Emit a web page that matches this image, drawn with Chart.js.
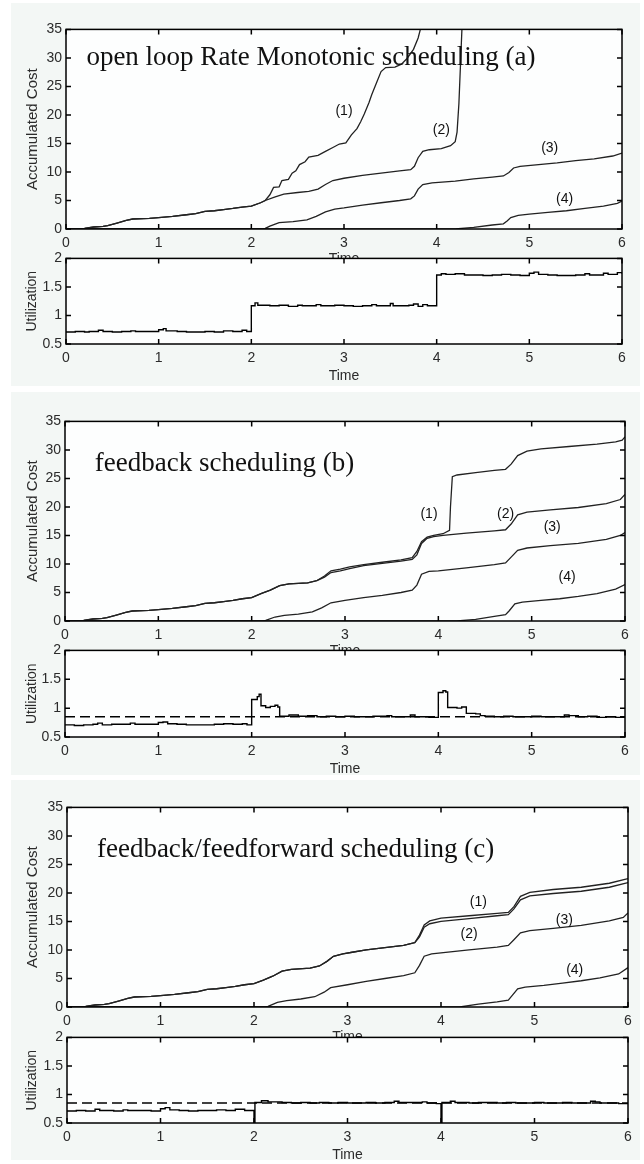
<!DOCTYPE html>
<html>
<head>
<meta charset="utf-8">
<script src="https://cdn.jsdelivr.net/npm/chart.js@4.4.0/dist/chart.umd.min.js"></script>
<style>
  html, body { margin: 0; padding: 0; background: #fff; }
  #page { position: relative; width: 644px; height: 1164px; overflow: hidden; background: #fff; }
  .panel { position: absolute; left: 11px; width: 629px; background: #f3f7f5; }
  canvas { position: absolute; left: 0; }
</style>
</head>
<body>
<div id="page">
  <div class="panel" style="top:3px;height:383px"></div>
  <div class="panel" style="top:392px;height:383px"></div>
  <div class="panel" style="top:780px;height:380px"></div>
</div>
<script>
// ---- axes / text ----
const timeTicks = [0, 1, 2, 3, 4, 5, 6];
const costTicks = [0, 5, 10, 15, 20, 25, 30, 35];
const utilTicks = [0.5, 1, 1.5, 2];
const curveNames = ['(1)', '(2)', '(3)', '(4)'];
const panelTitles = [
  'open loop Rate Monotonic scheduling (a)',
  'feedback scheduling (b)',
  'feedback/feedforward scheduling (c)'
];
const utilSetpoint = 0.85;

// ---- (a) open loop: accumulated cost [time, cost] ----
const costA12 = [[0,0],[0.15,0],[0.2,0.1],[0.3,0.35],[0.4,0.45],[0.45,0.6],[0.55,1.05],[0.65,1.5],[0.72,1.75],[0.9,1.85],[1.0,2.0],[1.15,2.2],[1.3,2.5],[1.4,2.7],[1.5,3.1],[1.6,3.2],[1.7,3.4],[1.8,3.6],[1.9,3.85],[2.0,4.0],[2.1,4.6],[2.15,5.0]];
const costA1 = costA12.concat([[2.2,6.0],[2.24,7.3],[2.3,7.4],[2.33,8.5],[2.4,8.7],[2.44,9.8],[2.48,10.2],[2.52,11.3],[2.58,11.8],[2.62,12.6],[2.72,12.9],[2.8,13.6],[2.88,14.3],[2.95,14.9],[3.02,15.1],[3.08,16.5],[3.14,17.6],[3.18,18.8],[3.22,20.2],[3.27,22.2],[3.3,23.6],[3.35,25.6],[3.4,27.6],[3.45,28.3],[3.55,28.4],[3.62,28.9],[3.68,29.9],[3.75,31.5],[3.8,33.5],[3.84,36],[3.9,42]]);
const costA2 = costA12.concat([[2.25,5.6],[2.35,6.1],[2.5,6.4],[2.62,6.6],[2.72,7.0],[2.8,7.8],[2.88,8.5],[3.0,8.9],[3.2,9.4],[3.4,9.8],[3.6,10.2],[3.72,10.4],[3.76,11.0],[3.8,12.5],[3.85,13.6],[3.92,13.9],[4.05,14.1],[4.15,14.6],[4.2,15.3],[4.22,17],[4.24,22],[4.26,30],[4.28,38],[4.3,44]]);
const costA3 = [[0,0],[2.12,0],[2.15,0.1],[2.2,0.5],[2.3,1.1],[2.45,1.3],[2.6,1.6],[2.7,2.2],[2.8,3.0],[2.9,3.5],[3.0,3.7],[3.2,4.2],[3.4,4.6],[3.6,5.0],[3.72,5.3],[3.76,5.8],[3.8,7.0],[3.85,7.8],[3.95,8.1],[4.2,8.4],[4.4,8.8],[4.6,9.1],[4.72,9.3],[4.78,9.9],[4.83,10.7],[4.9,11.0],[5.1,11.3],[5.3,11.6],[5.5,12.0],[5.7,12.3],[5.9,12.8],[6.0,13.3]];
const costA4 = [[0,0],[4.2,0],[4.4,0.3],[4.6,0.7],[4.72,0.9],[4.76,1.4],[4.8,2.0],[4.88,2.4],[5.0,2.6],[5.2,2.9],[5.4,3.2],[5.6,3.6],[5.8,4.0],[5.95,4.5],[6.0,4.9]];

// ---- (b) feedback ----
const costB12 = [[0,0],[0.15,0],[0.2,0.1],[0.3,0.35],[0.4,0.45],[0.45,0.6],[0.55,1.05],[0.65,1.5],[0.72,1.75],[0.9,1.85],[1.0,2.0],[1.15,2.2],[1.3,2.5],[1.4,2.7],[1.5,3.1],[1.6,3.2],[1.7,3.4],[1.8,3.6],[1.9,3.9],[2.0,4.1],[2.1,4.8],[2.2,5.4],[2.3,6.2],[2.4,6.5],[2.6,6.7],[2.7,7.1]];
const costB1 = costB12.concat([[2.78,7.9],[2.85,8.8],[2.95,9.1],[3.05,9.5],[3.2,9.9],[3.4,10.3],[3.6,10.7],[3.72,11.1],[3.77,12.2],[3.82,13.9],[3.88,14.7],[3.95,15.0],[4.05,15.3],[4.12,15.9],[4.13,20],[4.15,25.3],[4.2,25.6],[4.4,26.0],[4.6,26.4],[4.72,26.6],[4.78,27.5],[4.85,29.0],[4.95,29.8],[5.1,30.2],[5.4,30.6],[5.7,31.0],[5.9,31.4],[5.97,31.7],[6.0,32.3]]);
const costB2 = costB12.concat([[2.78,7.7],[2.85,8.5],[2.95,8.8],[3.05,9.2],[3.2,9.7],[3.4,10.1],[3.6,10.5],[3.72,10.8],[3.77,11.6],[3.82,13.6],[3.88,14.5],[3.95,14.8],[4.05,15.0],[4.3,15.4],[4.6,15.8],[4.72,16.0],[4.78,17.0],[4.85,18.6],[4.95,19.1],[5.2,19.5],[5.5,19.9],[5.8,20.6],[5.95,21.3],[6.0,22.2]]);
const costB3 = [[0,0],[2.12,0],[2.15,0.1],[2.25,0.7],[2.35,1.0],[2.5,1.2],[2.65,1.6],[2.75,2.3],[2.85,3.2],[3.0,3.6],[3.2,4.1],[3.4,4.5],[3.6,5.0],[3.72,5.4],[3.77,6.3],[3.82,8.2],[3.9,8.7],[4.0,8.8],[4.3,9.3],[4.6,9.9],[4.72,10.2],[4.78,11.2],[4.85,12.4],[4.95,12.8],[5.2,13.2],[5.5,13.6],[5.8,14.3],[5.95,15.0],[6.0,15.5]];
const costB4 = [[0,0],[4.2,0],[4.4,0.3],[4.6,0.8],[4.72,1.1],[4.76,1.8],[4.82,3.0],[4.9,3.3],[5.1,3.6],[5.3,3.9],[5.5,4.3],[5.7,4.8],[5.9,5.6],[6.0,6.4]];

// ---- (c) feedback/feedforward ----
const costC12 = [[0,0],[0.15,0],[0.2,0.1],[0.3,0.35],[0.4,0.45],[0.45,0.6],[0.55,1.05],[0.65,1.5],[0.72,1.75],[0.9,1.85],[1.0,2.0],[1.15,2.2],[1.3,2.5],[1.4,2.7],[1.5,3.1],[1.6,3.2],[1.7,3.4],[1.8,3.6],[1.9,3.9],[2.0,4.1],[2.1,4.7],[2.2,5.4],[2.3,6.3],[2.4,6.6],[2.6,6.8],[2.7,7.2],[2.78,8.0],[2.85,8.9],[2.95,9.3],[3.05,9.6],[3.2,10.0],[3.4,10.4],[3.6,10.8],[3.72,11.3]];
const costC1 = costC12.concat([[3.77,12.6],[3.82,14.4],[3.88,15.1],[4.0,15.6],[4.3,16.0],[4.6,16.4],[4.72,16.6],[4.78,17.6],[4.85,19.4],[4.95,20.1],[5.2,20.6],[5.5,21.0],[5.8,21.7],[6.0,22.5]]);
const costC2 = costC12.concat([[3.77,12.3],[3.82,14.0],[3.88,14.6],[4.0,15.0],[4.3,15.5],[4.6,16.0],[4.72,16.2],[4.78,17.2],[4.85,18.8],[4.95,19.5],[5.2,19.9],[5.5,20.3],[5.8,21.0],[6.0,21.8]]);
const costC3 = [[0,0],[2.12,0],[2.15,0.1],[2.25,0.8],[2.35,1.1],[2.5,1.4],[2.65,1.8],[2.75,2.6],[2.82,3.4],[3.0,3.9],[3.2,4.5],[3.4,5.0],[3.6,5.5],[3.72,6.0],[3.77,7.3],[3.82,8.9],[3.9,9.3],[4.0,9.5],[4.3,10.0],[4.6,10.5],[4.72,10.8],[4.78,11.8],[4.85,13.0],[4.95,13.4],[5.2,13.8],[5.5,14.3],[5.8,15.1],[5.95,15.7],[6.0,16.5]];
const costC4 = [[0,0],[4.2,0],[4.4,0.5],[4.6,0.9],[4.72,1.2],[4.76,2.0],[4.82,3.2],[4.9,3.5],[5.1,3.8],[5.3,4.2],[5.5,4.6],[5.7,5.1],[5.9,5.8],[6.0,6.9]];

// ---- utilization [time, U], held until the next sample ----
const utilA = [[0,0.71],[0.1,0.72],[0.2,0.71],[0.25,0.72],[0.35,0.74],[0.4,0.72],[0.5,0.71],[0.6,0.72],[0.7,0.73],[0.75,0.72],[0.9,0.72],[1.0,0.75],[1.05,0.77],[1.08,0.73],[1.2,0.72],[1.3,0.71],[1.4,0.71],[1.5,0.72],[1.6,0.71],[1.7,0.73],[1.8,0.72],[1.9,0.74],[1.95,0.72],
  [2.0,1.17],[2.04,1.22],[2.07,1.18],[2.2,1.17],[2.3,1.18],[2.4,1.16],[2.5,1.18],[2.55,1.17],[2.7,1.19],[2.75,1.17],[2.9,1.18],[3.0,1.17],[3.1,1.16],[3.2,1.17],[3.3,1.19],[3.35,1.17],[3.5,1.21],[3.53,1.17],[3.7,1.18],[3.75,1.20],[3.8,1.16],[3.85,1.19],[3.9,1.17],
  [4.0,1.71],[4.05,1.73],[4.1,1.72],[4.2,1.73],[4.3,1.71],[4.4,1.71],[4.5,1.70],[4.6,1.71],[4.7,1.72],[4.8,1.71],[4.9,1.70],[5.0,1.74],[5.05,1.76],[5.1,1.72],[5.2,1.71],[5.3,1.70],[5.5,1.71],[5.6,1.73],[5.65,1.71],[5.8,1.74],[5.85,1.72],[5.95,1.75],[6.0,1.73]];
const utilB = [[0,0.71],[0.1,0.70],[0.2,0.71],[0.3,0.72],[0.35,0.74],[0.4,0.71],[0.5,0.72],[0.6,0.72],[0.7,0.74],[0.75,0.72],[0.9,0.72],[1.0,0.75],[1.05,0.76],[1.1,0.73],[1.2,0.72],[1.3,0.71],[1.5,0.71],[1.6,0.72],[1.7,0.73],[1.8,0.72],[1.9,0.73],[1.95,0.71],
  [2.0,1.15],[2.06,1.2],[2.08,1.24],[2.1,1.04],[2.15,1.01],[2.2,1.03],[2.25,1.05],[2.28,1.02],[2.3,0.86],[2.4,0.88],[2.5,0.86],[2.6,0.87],[2.7,0.85],[2.8,0.86],[2.9,0.85],[3.0,0.86],[3.1,0.85],[3.2,0.85],[3.3,0.86],[3.45,0.87],[3.5,0.85],[3.6,0.85],[3.7,0.88],[3.75,0.85],[3.9,0.84],
  [4.0,1.27],[4.05,1.3],[4.08,1.28],[4.1,1.01],[4.2,1.0],[4.25,1.02],[4.3,0.91],[4.4,0.9],[4.45,0.87],[4.5,0.86],[4.6,0.85],[4.7,0.86],[4.8,0.85],[4.9,0.85],[5.0,0.86],[5.1,0.85],[5.2,0.85],[5.35,0.88],[5.4,0.87],[5.5,0.85],[5.6,0.86],[5.7,0.84],[5.8,0.85],[5.9,0.84],[6.0,0.85]];
const utilC = [[0,0.71],[0.1,0.72],[0.2,0.71],[0.3,0.74],[0.35,0.72],[0.5,0.71],[0.6,0.73],[0.65,0.72],[0.8,0.72],[0.9,0.71],[1.0,0.75],[1.05,0.77],[1.1,0.73],[1.2,0.72],[1.3,0.71],[1.4,0.72],[1.5,0.72],[1.6,0.73],[1.7,0.72],[1.8,0.74],[1.9,0.72],
  [2.0,0.3],[2.01,0.86],[2.08,0.89],[2.15,0.87],[2.3,0.86],[2.4,0.85],[2.5,0.86],[2.6,0.85],[2.7,0.86],[2.8,0.85],[2.9,0.86],[3.0,0.85],[3.1,0.85],[3.2,0.86],[3.3,0.85],[3.4,0.86],[3.5,0.88],[3.55,0.86],[3.7,0.86],[3.8,0.87],[3.85,0.85],[3.95,0.84],
  [4.0,0.3],[4.01,0.86],[4.1,0.88],[4.15,0.86],[4.3,0.85],[4.4,0.86],[4.5,0.86],[4.6,0.85],[4.7,0.86],[4.8,0.85],[4.9,0.85],[5.0,0.86],[5.1,0.85],[5.2,0.85],[5.3,0.86],[5.4,0.85],[5.5,0.85],[5.6,0.88],[5.65,0.87],[5.7,0.85],[5.8,0.85],[5.9,0.84],[6.0,0.85]];

// where the (1)..(4) tags and the panel titles sit, in data units
const tagSpotsA = [[3.0, 20.6], [4.05, 17.4], [5.22, 14.2], [5.38, 5.3]];
const tagSpotsB = [[3.9, 18.8], [4.72, 18.8], [5.22, 16.4], [5.38, 7.7]];
const tagSpotsC = [[4.4, 18.3], [4.3, 12.8], [5.32, 15.2], [5.43, 6.5]];
const titleSpots = [[0.22, 30], [0.32, 27.5], [0.32, 27.5]];

const SANS = '"Liberation Sans", Arial, Helvetica, sans-serif';
const SERIF = '"Liberation Serif", "Times New Roman", serif';
const page = document.getElementById('page');

// white plot box, black frame, MATLAB style inward ticks, text notes
const framePlugin = {
  id: 'frame',
  beforeDraw(chart) {
    const a = chart.chartArea, ctx = chart.ctx;
    ctx.save();
    ctx.fillStyle = '#fdfefe';
    ctx.fillRect(a.left, a.top, a.right - a.left, a.bottom - a.top);
    ctx.restore();
  },
  afterDatasetsDraw(chart, args, opts) {
    const a = chart.chartArea, ctx = chart.ctx;
    const xs = chart.scales.x, ys = chart.scales.y;
    ctx.save();
    ctx.fillStyle = '#111';
    ctx.textBaseline = 'middle';
    (opts.notes || []).forEach(n => {
      ctx.font = n.font;
      ctx.textAlign = n.align;
      ctx.fillText(n.text, xs.getPixelForValue(n.at[0]), ys.getPixelForValue(n.at[1]));
    });
    ctx.strokeStyle = '#000';
    ctx.lineWidth = 1.5;
    ctx.strokeRect(a.left, a.top, a.right - a.left, a.bottom - a.top);
    ctx.beginPath();
    xs.ticks.forEach(t => {
      const px = xs.getPixelForValue(t.value);
      ctx.moveTo(px, a.bottom); ctx.lineTo(px, a.bottom - 5);
      ctx.moveTo(px, a.top); ctx.lineTo(px, a.top + 5);
    });
    ys.ticks.forEach(t => {
      const py = ys.getPixelForValue(t.value);
      ctx.moveTo(a.left, py); ctx.lineTo(a.left + 5, py);
      ctx.moveTo(a.right, py); ctx.lineTo(a.right - 5, py);
    });
    ctx.stroke();
    ctx.restore();
  }
};

function makeChart(box, yTicks, yTitle, titleSize, datasets, notes, timePad) {
  const padTop = 12, padRight = 10, xh = 46;
  const canvas = document.createElement('canvas');
  canvas.width = box.R + padRight;
  canvas.height = box.B - box.T + padTop + xh;
  canvas.style.top = (box.T - padTop) + 'px';
  page.appendChild(canvas);

  const tickFont = { family: SANS, size: 14 };
  new Chart(canvas, {
    type: 'line',
    data: { datasets: datasets },
    options: {
      responsive: false,
      animation: false,
      events: [],
      layout: { padding: { left: 0, top: padTop, right: padRight, bottom: 0 } },
      elements: {
        point: { radius: 0 },
        line: { tension: 0, borderWidth: 1.3, borderColor: '#1e1e1e' }
      },
      plugins: {
        legend: { display: false },
        tooltip: { enabled: false },
        frame: { notes: notes }
      },
      scales: {
        x: {
          type: 'linear', min: 0, max: 6,
          grid: { display: false, drawTicks: false },
          border: { display: false },
          afterBuildTicks: s => { s.ticks = timeTicks.map(v => ({ value: v })); },
          afterFit: s => { s.height = xh; },
          ticks: { padding: 6, color: '#2b2b2b', font: tickFont, maxRotation: 0, autoSkip: false, callback: v => String(v) },
          title: { display: true, text: 'Time', color: '#2b2b2b', font: tickFont, padding: { top: 0, bottom: timePad } }
        },
        y: {
          type: 'linear', min: yTicks[0], max: yTicks[yTicks.length - 1],
          grid: { display: false, drawTicks: false },
          border: { display: false },
          afterBuildTicks: s => { s.ticks = yTicks.map(v => ({ value: v })); },
          afterFit: s => { s.width = box.L; },
          ticks: { padding: 4, color: '#2b2b2b', font: tickFont, autoSkip: false, callback: v => String(v) },
          title: { display: true, text: yTitle, color: '#2b2b2b', font: { family: SANS, size: titleSize }, padding: { top: 24, bottom: 0 } }
        }
      }
    },
    plugins: [framePlugin]
  });
}

function costSets(curves) {
  return curves.map(c => ({ data: c, borderColor: '#222', borderWidth: 1.3 }));
}
function utilSets(u, withSetpoint) {
  const sets = [{ data: u, stepped: true, borderColor: '#000', borderWidth: 1.4 }];
  if (withSetpoint) {
    sets.push({ data: [[0, utilSetpoint], [6, utilSetpoint]], borderColor: '#000', borderWidth: 1.6, borderDash: [10, 5] });
  }
  return sets;
}
function costNotes(i, spots) {
  const notes = [{ text: panelTitles[i], at: titleSpots[i], font: '27px ' + SERIF, align: 'left' }];
  spots.forEach((s, k) => notes.push({ text: curveNames[k], at: s, font: '14px ' + SANS, align: 'center' }));
  return notes;
}

const panels = [
  { top: { L: 66, R: 622, T: 29, B: 229 }, bottom: { L: 66, R: 622, T: 258, B: 344 },
    cost: [costA1, costA2, costA3, costA4], util: utilA, setpoint: false, tags: tagSpotsA },
  { top: { L: 65, R: 625, T: 421, B: 621 }, bottom: { L: 65, R: 625, T: 650, B: 737 },
    cost: [costB1, costB2, costB3, costB4], util: utilB, setpoint: true, tags: tagSpotsB },
  { top: { L: 67, R: 628, T: 807, B: 1007 }, bottom: { L: 67, R: 628, T: 1037, B: 1123 },
    cost: [costC1, costC2, costC3, costC4], util: utilC, setpoint: true, tags: tagSpotsC }
];

panels.forEach((p, i) => {
  makeChart(p.top, costTicks, 'Accumulated Cost', 15, costSets(p.cost), costNotes(i, p.tags), 7);
  makeChart(p.bottom, utilTicks, 'Utilization', 14, utilSets(p.util, p.setpoint), [], 5.6);
});
</script>
</body>
</html>
